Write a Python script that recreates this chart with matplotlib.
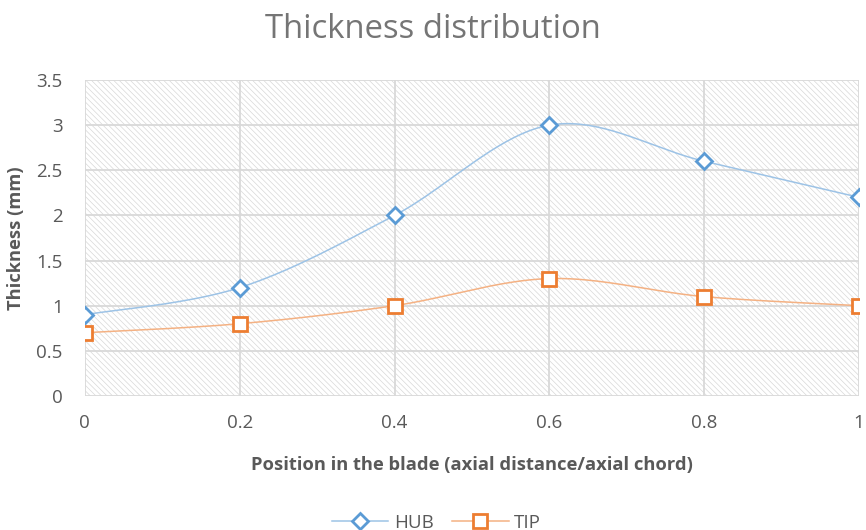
import numpy as np
import matplotlib
matplotlib.use('Agg')
import matplotlib.pyplot as plt
from matplotlib.lines import Line2D
from matplotlib.patches import Rectangle

# blade thickness along the axial chord
position = [0, 0.2, 0.4, 0.6, 0.8, 1]
hub = [0.9, 1.2, 2.0, 3.0, 2.6, 2.2]
tip = [0.7, 0.8, 1.0, 1.3, 1.1, 1.0]

y_ticks = [0, 0.5, 1, 1.5, 2, 2.5, 3, 3.5]
y_labels = ['0', '0.5', '1', '1.5', '2', '2.5', '3', '3.5']
x_ticks = [0, 0.2, 0.4, 0.6, 0.8, 1]
x_labels = ['0', '0.2', '0.4', '0.6', '0.8', '1']

TEXT = '#595959'
GRID = '#d9d9d9'
plt.rcParams['font.family'] = ['Open Sans', 'DejaVu Sans']


def smooth(x, y, n=40):
    # cubic bezier through the points, control points like a catmull-rom spline
    x = np.asarray(x, float)
    y = np.asarray(y, float)
    px = np.concatenate([[x[0]], x, [x[-1]]])
    py = np.concatenate([[y[0]], y, [y[-1]]])
    t = np.linspace(0, 1, n)
    xs, ys = [], []
    for i in range(1, len(px) - 2):
        p0 = np.array([px[i], py[i]])
        p3 = np.array([px[i + 1], py[i + 1]])
        c1 = p0 + (p3 - np.array([px[i - 1], py[i - 1]])) / 6
        c2 = p3 - (np.array([px[i + 2], py[i + 2]]) - p0) / 6
        b = ((1 - t) ** 3)[:, None] * p0 + (3 * (1 - t) ** 2 * t)[:, None] * c1 \
            + (3 * (1 - t) * t ** 2)[:, None] * c2 + (t ** 3)[:, None] * p3
        xs.append(b[:, 0])
        ys.append(b[:, 1])
    return np.concatenate(xs), np.concatenate(ys)


fig = plt.figure(figsize=(8.66, 5.3), dpi=100)
ax = fig.add_axes([0.098, 0.253, 0.894, 0.596])

# hatched plot area
plt.rcParams['hatch.linewidth'] = 0.5
ax.add_patch(Rectangle((0, 0), 1, 1, transform=ax.transAxes, facecolor='white',
                       edgecolor='#d8d8d8', hatch='\\\\\\\\\\\\', linewidth=0, zorder=0))

for yv in y_ticks:
    ax.axhline(yv, color=GRID, lw=1.3, zorder=1)
for xv in x_ticks:
    ax.axvline(xv, color=GRID, lw=1.3, zorder=1)

hub_style = dict(marker='D', ms=8, mfc='white', mec='#5b9bd5', mew=2)
tip_style = dict(marker='s', ms=10.5, mfc='white', mec='#ed7d31', mew=2)

hx, hy = smooth(position, hub)
tx, ty = smooth(position, tip)
ax.plot(hx, hy, color='#9dc3e6', lw=1.1, zorder=3)
ax.plot(tx, ty, color='#f4b183', lw=1.1, zorder=3)
ax.plot(position, hub, ls='none', zorder=4, **hub_style)
ax.plot(position, tip, ls='none', zorder=4, **tip_style)

ax.set_xlim(0, 1)
ax.set_ylim(0, 3.5)
ax.set_xticks(x_ticks)
ax.set_xticklabels(x_labels)
ax.set_yticks(y_ticks)
ax.set_yticklabels(y_labels)
ax.tick_params(axis='both', length=0, labelsize=13.5, labelcolor=TEXT)
ax.tick_params(axis='x', pad=13)
ax.tick_params(axis='y', pad=16)
for s in ax.spines.values():
    s.set_visible(False)

ax.set_xlabel('Position in the blade (axial distance/axial chord)', fontsize=13.2,
              fontweight='bold', color=TEXT, labelpad=17)
ax.set_ylabel('Thickness (mm)', fontsize=13.2, fontweight='bold', color=TEXT, labelpad=8)
fig.text(0.5, 0.945, 'Thickness distribution', ha='center', va='center',
         fontsize=23.7, color='#757575')

handles = [
    Line2D([], [], color='#9dc3e6', lw=1.1, **hub_style),
    Line2D([], [], color='#f4b183', lw=1.1, **tip_style),
]
fig.legend(handles, ['HUB', 'TIP'], loc='center', bbox_to_anchor=(0.504, 0.014),
           ncol=2, frameon=False, fontsize=13.5, labelcolor=TEXT, handlelength=3,
           columnspacing=1.0, handletextpad=0.3)

fig.savefig('out.png', dpi=100)
